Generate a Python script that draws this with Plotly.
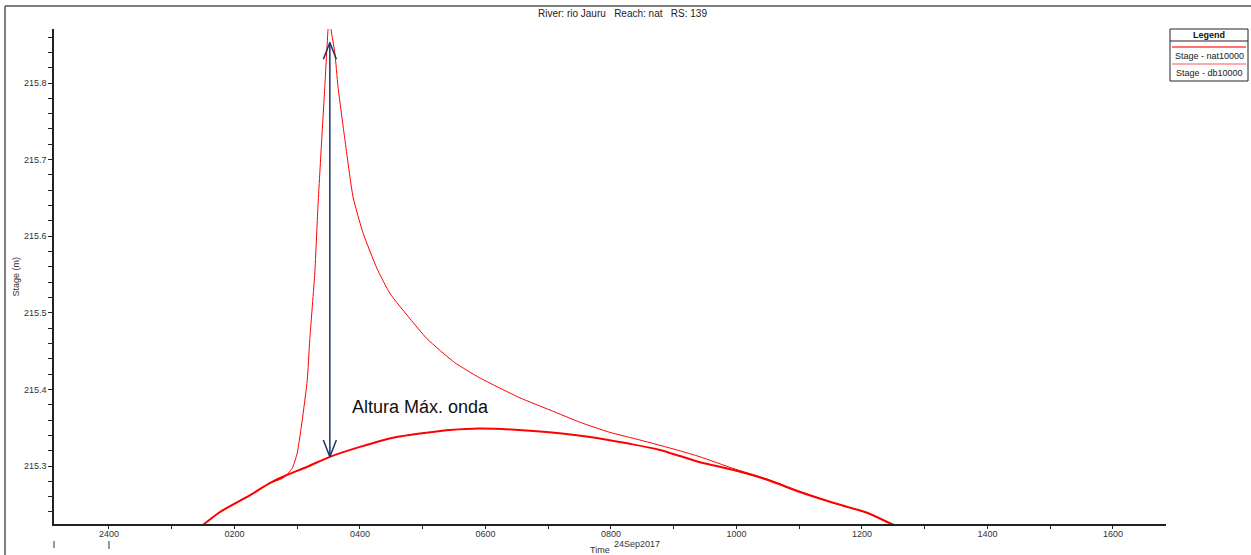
import plotly.graph_objects as go

# ---- data (hours from 24Sep2017 00:00, stage in m) ----
series_names = ["Stage - nat10000", "Stage - db10000"]

hours_nat = [1.13, 1.51, 1.77, 2.25, 2.57, 2.80, 3.16, 3.52, 4.00, 4.53, 5.12, 5.43,
             5.91, 6.71, 7.67, 8.30, 8.78, 9.42, 9.94, 10.49, 11.01, 11.54, 12.08,
             12.48, 12.92]
stage_nat = [215.201, 215.224, 215.240, 215.262, 215.278, 215.287, 215.299, 215.312,
             215.325, 215.337, 215.344, 215.347, 215.349, 215.346, 215.338, 215.329,
             215.321, 215.305, 215.295, 215.282, 215.266, 215.252, 215.239, 215.224,
             215.209]

hours_db = [1.13, 1.51, 1.77, 2.25, 2.57, 2.77, 2.92, 3.00, 3.08, 3.16, 3.20, 3.28,
            3.33, 3.39, 3.44, 3.49, 3.51, 3.54, 3.60, 3.65, 3.76, 3.89, 4.05, 4.27,
            4.48, 4.80, 5.07, 5.51, 5.91, 6.55, 7.03, 7.51, 7.98, 8.46, 9.05, 9.42,
            9.94, 10.49, 11.01, 11.54, 12.08, 12.48, 12.92]
stage_db = [215.201, 215.224, 215.240, 215.262, 215.278, 215.284, 215.297, 215.317,
            215.360, 215.412, 215.465, 215.552, 215.638, 215.726, 215.795, 215.869,
            215.886, 215.869, 215.839, 215.795, 215.726, 215.651, 215.604, 215.558,
            215.525, 215.492, 215.466, 215.435, 215.415, 215.389, 215.373, 215.357,
            215.344, 215.334, 215.321, 215.312, 215.297, 215.283, 215.267, 215.252,
            215.239, 215.224, 215.209]

x_tickvals = [0, 2, 4, 6, 8, 10, 12, 14, 16]
x_ticktext = ["2400", "0200", "0400", "0600", "0800", "1000", "1200", "1400", "1600"]
y_tickvals = [215.3, 215.4, 215.5, 215.6, 215.7, 215.8]
y_ticktext = ["215.3", "215.4", "215.5", "215.6", "215.7", "215.8"]

x_range = [-0.876, 16.845]
y_range = [215.2243, 215.8705]

day_label = "24Sep2017"
day_start = 0.0

# wave height marker
arrow_index = hours_nat.index(3.52)
arrow_time = hours_nat[arrow_index]
arrow_low = stage_nat[arrow_index]
arrow_high = 215.853
head_dx = 0.104
head_dy = 0.022
arrow_text = "Altura Máx. onda"

FONT = "Liberation Sans, Arial, sans-serif"
W, H = 1251, 555
ML, MR, MT, MB = 54, 85, 29, 31
PW, PH = W - ML - MR, H - MT - MB


def pxx(x):
    return (x - ML) / PW


def pxy(y):
    return (H - MB - y) / PH


fig = go.Figure()

fig.add_trace(go.Scatter(x=hours_nat, y=stage_nat, mode="lines", name=series_names[0],
                         line=dict(color="#ff0000", width=2, shape="spline", smoothing=0.7),
                         showlegend=False))
fig.add_trace(go.Scatter(x=hours_db, y=stage_db, mode="lines", name=series_names[1],
                         line=dict(color="#ff0000", width=1, shape="spline", smoothing=0.5),
                         showlegend=False))

# double-headed arrow with open chevron heads
navy = "#1d3468"
fig.add_trace(go.Scatter(x=[arrow_time, arrow_time], y=[arrow_low, arrow_high], mode="lines",
                         line=dict(color=navy, width=1.5), showlegend=False, hoverinfo="skip"))
fig.add_trace(go.Scatter(
    x=[arrow_time - head_dx, arrow_time, arrow_time + head_dx, None,
       arrow_time - head_dx, arrow_time, arrow_time + head_dx],
    y=[arrow_high - head_dy, arrow_high, arrow_high - head_dy, None,
       arrow_low + head_dy, arrow_low, arrow_low + head_dy],
    mode="lines", line=dict(color=navy, width=1.5), showlegend=False, hoverinfo="skip"))

annotations = [
    dict(x=3.84, y=215.377, xref="x", yref="y", text=arrow_text, showarrow=False,
         xanchor="left", yanchor="middle", font=dict(family=FONT, size=18, color="#111")),
    dict(x=pxx(622), y=pxy(13), xref="paper", yref="paper",
         text="River: rio Jauru   Reach: nat   RS: 139", showarrow=False,
         xanchor="center", yanchor="middle", font=dict(family=FONT, size=10, color="#222")),
    dict(x=(day_start + x_range[1]) / 2, y=pxy(544), xref="x", yref="paper", text=day_label,
         showarrow=False, xanchor="center", yanchor="middle",
         font=dict(family=FONT, size=9, color="#333")),
    dict(x=pxx(612), y=pxy(550), xref="paper", yref="paper", text="Time", showarrow=False,
         xanchor="right", yanchor="middle", font=dict(family=FONT, size=9, color="#333")),
    dict(x=pxx(15), y=0.5, xref="paper", yref="paper", text="Stage (m)", showarrow=False,
         textangle=-90, xanchor="center", yanchor="middle",
         font=dict(family=FONT, size=9, color="#333")),
    # legend text
    dict(x=pxx(1209), y=pxy(35), xref="paper", yref="paper", text="<b>Legend</b>",
         showarrow=False, xanchor="center", yanchor="middle",
         font=dict(family=FONT, size=9, color="#111")),
    dict(x=pxx(1209), y=pxy(56), xref="paper", yref="paper", text=series_names[0],
         showarrow=False, xanchor="center", yanchor="middle",
         font=dict(family=FONT, size=9, color="#222")),
    dict(x=pxx(1209), y=pxy(73), xref="paper", yref="paper", text=series_names[1],
         showarrow=False, xanchor="center", yanchor="middle",
         font=dict(family=FONT, size=9, color="#222")),
]

shapes = [
    # outer frame (left and top edges)
    dict(type="line", xref="paper", yref="paper", x0=pxx(5), x1=pxx(5), y0=pxy(6), y1=pxy(H + 10),
         line=dict(color="#555", width=1.5)),
    dict(type="line", xref="paper", yref="paper", x0=pxx(5), x1=pxx(W + 10), y0=pxy(6), y1=pxy(6),
         line=dict(color="#555", width=1.5)),
    # day boundary markers
    dict(type="line", xref="paper", yref="paper", x0=0, x1=0, y0=pxy(541), y1=pxy(548),
         line=dict(color="#333", width=1)),
    dict(type="line", xref="x", yref="paper", x0=day_start, x1=day_start, y0=pxy(541), y1=pxy(549),
         line=dict(color="#333", width=1)),
    # legend box
    dict(type="rect", xref="paper", yref="paper", x0=pxx(1170), x1=pxx(1248), y0=pxy(81), y1=pxy(29),
         line=dict(color="#222", width=1), fillcolor="white"),
    dict(type="line", xref="paper", yref="paper", x0=pxx(1170), x1=pxx(1248), y0=pxy(41), y1=pxy(41),
         line=dict(color="#222", width=1)),
    dict(type="line", xref="paper", yref="paper", x0=pxx(1172), x1=pxx(1246), y0=pxy(47), y1=pxy(47),
         line=dict(color="rgba(255,0,0,0.55)", width=2)),
    dict(type="line", xref="paper", yref="paper", x0=pxx(1172), x1=pxx(1246), y0=pxy(64), y1=pxy(64),
         line=dict(color="rgba(255,0,0,0.45)", width=1.5)),
]

fig.update_layout(
    width=W, height=H,
    margin=dict(l=ML, r=MR, t=MT, b=MB),
    paper_bgcolor="white", plot_bgcolor="white",
    font=dict(family=FONT, size=9, color="#333"),
    annotations=annotations, shapes=shapes,
    xaxis=dict(range=x_range, tickmode="array", tickvals=x_tickvals, ticktext=x_ticktext,
               ticks="outside", ticklen=3, tickcolor="#222", tickwidth=1, ticklabelstandoff=-3,
               minor=dict(tickmode="linear", tick0=0, dtick=1, ticks="outside", ticklen=3,
                          tickcolor="#222", tickwidth=1),
               showline=True, linecolor="#222", linewidth=1.5, showgrid=False, zeroline=False,
               tickfont=dict(family=FONT, size=9, color="#333")),
    yaxis=dict(range=y_range, tickmode="array", tickvals=y_tickvals, ticktext=y_ticktext,
               ticks="outside", ticklen=4, tickcolor="#222", tickwidth=1,
               minor=dict(tickmode="linear", tick0=215.3, dtick=0.02, ticks="outside", ticklen=4,
                          tickcolor="#222", tickwidth=1),
               showline=True, linecolor="#222", linewidth=1.5, showgrid=False, zeroline=False,
               tickfont=dict(family=FONT, size=9, color="#333")),
)

fig.write_html("out.html")
